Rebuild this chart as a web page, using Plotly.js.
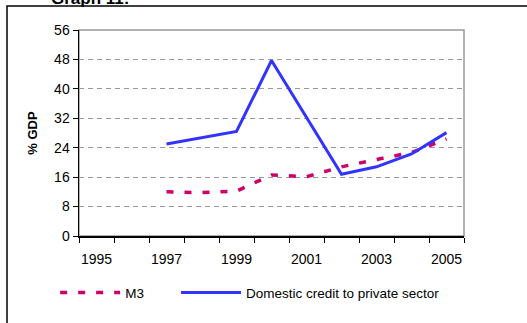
<!DOCTYPE html>
<html><head><meta charset="utf-8">
<script src="https://cdn.plot.ly/plotly-3.0.1.min.js"></script>
<style>html,body{margin:0;padding:0;background:#fff;}#chart{width:527px;height:323px;}</style>
</head><body><div id="chart"></div>
<script>
var years = [1995,1996,1997,1998,1999,2000,2001,2002,2003,2004,2005];
var dataYears = [1997,1998,1999,2000,2001,2002,2003,2004,2005];
var m3 = [12.0,11.8,12.2,16.6,16.1,18.8,20.8,22.7,26.4];
var credit = [25.0,26.6,28.4,47.7,32.3,16.8,18.8,22.3,28.1];
var tickLabels = ["1995","1997","1999","2001","2003","2005"];
var tickYears = [1995,1997,1999,2001,2003,2005];
var boundaries = years.map(function(y){return y-0.5;}).concat([2005.5]);

var font = "Liberation Sans, Arial, sans-serif";
var traces = [
 {x: dataYears, y: m3, name: "M3", mode: "lines", legend: "legend",
  line: {color: "#CC0066", width: 3.5, dash: "7px,11px"}},
 {x: dataYears, y: credit, name: "Domestic credit to private sector", mode: "lines", legend: "legend2",
  line: {color: "#3333FF", width: 3}}
];
var legendBase = {orientation: "h", y: -0.2, xanchor: "left", yanchor: "top",
  font: {family: font, size: 13.5, color: "#000"}, itemwidth: 60, bgcolor: "rgba(0,0,0,0)"};
var layout = {
 width: 527, height: 323,
 margin: {l: 79, r: 63, t: 30, b: 87},
 paper_bgcolor: "#fff", plot_bgcolor: "#fff",
 font: {family: font, size: 13, color: "#000"},
 showlegend: true,
 legend: Object.assign({}, legendBase, {x: -0.062}),
 legend2: Object.assign({}, legendBase, {x: 0.252}),
 xaxis: {range: [1994.5, 2005.5], tickvals: tickYears, ticktext: tickLabels,
  ticks: "", showgrid: false, zeroline: false, showline: true, linecolor: "#000", linewidth: 1.5,
  tickfont: {family: font, size: 14}, ticklabelstandoff: 10,
  minor: {tickvals: boundaries, ticks: "outside", ticklen: 5, tickcolor: "#000", tickwidth: 1, showgrid: false}},
 yaxis: {range: [0, 56], dtick: 8, tick0: 0, ticks: "outside", ticklen: 5, tickcolor: "#000",
  showline: true, linecolor: "#000", linewidth: 1.5, zeroline: false,
  showgrid: true, gridcolor: "#999", griddash: "5px,4px", gridwidth: 1,
  tickfont: {family: font, size: 14},
  title: {text: "<b>% GDP</b>", font: {family: font, size: 13}, standoff: 13}},
 shapes: [
  {type: "rect", xref: "paper", yref: "paper", x0: 0, x1: 1, y0: 0, y1: 1,
   line: {color: "#999", width: 1.5}, layer: "below"},
  {type: "rect", xref: "paper", yref: "paper", x0: -0.187, x1: 1.5, y0: -1, y1: 1.1165,
   line: {color: "#000", width: 1.5}, layer: "below"}
 ],
 annotations: [
  {text: "<b>Graph 11:</b>", xref: "paper", yref: "paper", x: -0.077, y: 1.155,
   xanchor: "left", yanchor: "middle", showarrow: false, font: {family: font, size: 17}}
 ]
};
Plotly.newPlot("chart", traces, layout, {staticPlot: true});
</script></body></html>
